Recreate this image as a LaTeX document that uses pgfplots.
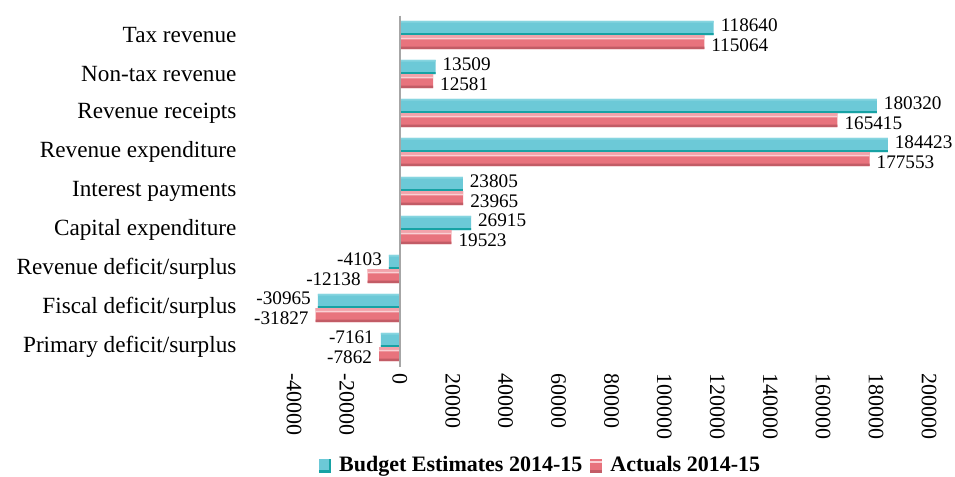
\documentclass[border=0pt]{standalone}
\usepackage{fontspec}
\setmainfont{Liberation Serif}
\usepackage{pgfplots}
\pgfplotsset{compat=1.18}
\definecolor{tealmain}{HTML}{6CC9D7}
\definecolor{tealtop}{HTML}{86D5E0}
\definecolor{tealbot}{HTML}{17A2A4}
\definecolor{redtop}{HTML}{F2A2AA}
\definecolor{redhi}{HTML}{FAD0D4}
\definecolor{redmain}{HTML}{E8737D}
\definecolor{redbot}{HTML}{C25C66}
\pgfplotstableread{
y teal red
0 118640 115064
1 13509 12581
2 180320 165415
3 184423 177553
4 23805 23965
5 26915 19523
6 -4103 -12138
7 -30965 -31827
8 -7161 -7862
}\datatable
\begin{document}
\begin{tikzpicture}
\useasboundingbox (0,0) rectangle (477.5pt,238.5pt);
\begin{axis}[
  at={(147pt,55.25pt)}, anchor=south west,
  scale only axis, width=317.5pt, height=175.5pt,
  xbar, 
  xmin=-40000, xmax=200000,
  ymin=-0.5, ymax=8.5, y dir=reverse,
  xtick={-40000,-20000,0,20000,40000,60000,80000,100000,120000,140000,160000,180000,200000},
  scaled x ticks=false,
  ytick={0,...,8},
  yticklabels={Tax revenue,Non-tax revenue,Revenue receipts,Revenue expenditure,Interest payments,Capital expenditure,Revenue deficit/surplus,Fiscal deficit/surplus,Primary deficit/surplus},
  axis line style={draw=none}, tick style={draw=none},
  /pgf/number format/1000 sep={},
  /pgf/number format/fixed,
  /pgf/number format/precision=0,
  /pgf/number format/assume math mode=true,
  xticklabel style={rotate=-90, anchor=west, font=\fontsize{11}{13}\selectfont},
  yticklabel style={xshift=-21pt, font=\fontsize{11.6}{13}\selectfont},
  point meta=x,
  every node near coord/.append style={font=\fontsize{9.6}{11}\selectfont, black},
  legend style={at={(0.39,-0.283)}, anchor=center, draw=none, font=\bfseries\fontsize{11}{13}\selectfont, legend columns=2, column sep=2pt, inner sep=0pt},
  clip=false,
]
% Budget estimates
\addplot[draw=none, fill=tealmain, bar width=0.36, bar shift=-0.18,
  nodes near coords, every node near coord/.append style={yshift=1.5pt},
  legend image code/.code={\fill[tealmain] (0pt,-3.5pt) rectangle (6pt,3.5pt); \fill[tealbot] (0pt,-3.5pt) rectangle (6pt,-2.2pt); \fill[tealbot] (4.8pt,-3.5pt) rectangle (6pt,3.5pt);}]
  table[x=teal, y=y] {\datatable};
\addlegendentry{Budget Estimates 2014-15}
\addplot[draw=none, fill=tealtop, bar width=0.04, bar shift=-0.34, forget plot] table[x=teal, y=y] {\datatable};
\addplot[draw=none, fill=tealbot, bar width=0.05, bar shift=-0.025, forget plot] table[x=teal, y=y] {\datatable};
% Actuals
\addplot[draw=none, fill=redmain, bar width=0.36, bar shift=0.18,
  nodes near coords, every node near coord/.append style={yshift=-1.5pt},
  legend image code/.code={\fill[redmain] (0pt,-3.5pt) rectangle (6pt,3.5pt); \fill[redhi] (0pt,1.2pt) rectangle (6pt,2.2pt); \fill[redbot] (0pt,-3.5pt) rectangle (6pt,-2.2pt);}]
  table[x=red, y=y] {\datatable};
\addlegendentry{Actuals 2014-15}
\addplot[draw=none, fill=redtop, bar width=0.07, bar shift=0.035, forget plot] table[x=red, y=y] {\datatable};
\addplot[draw=none, fill=redhi, bar width=0.045, bar shift=0.0925, forget plot] table[x=red, y=y] {\datatable};
\addplot[draw=none, fill=redbot, bar width=0.06, bar shift=0.33, forget plot] table[x=red, y=y] {\datatable};
\draw[gray!70, line width=0.8pt] (axis cs:0,-0.5) -- (axis cs:0,8.5);
\end{axis}
\end{tikzpicture}
\end{document}
